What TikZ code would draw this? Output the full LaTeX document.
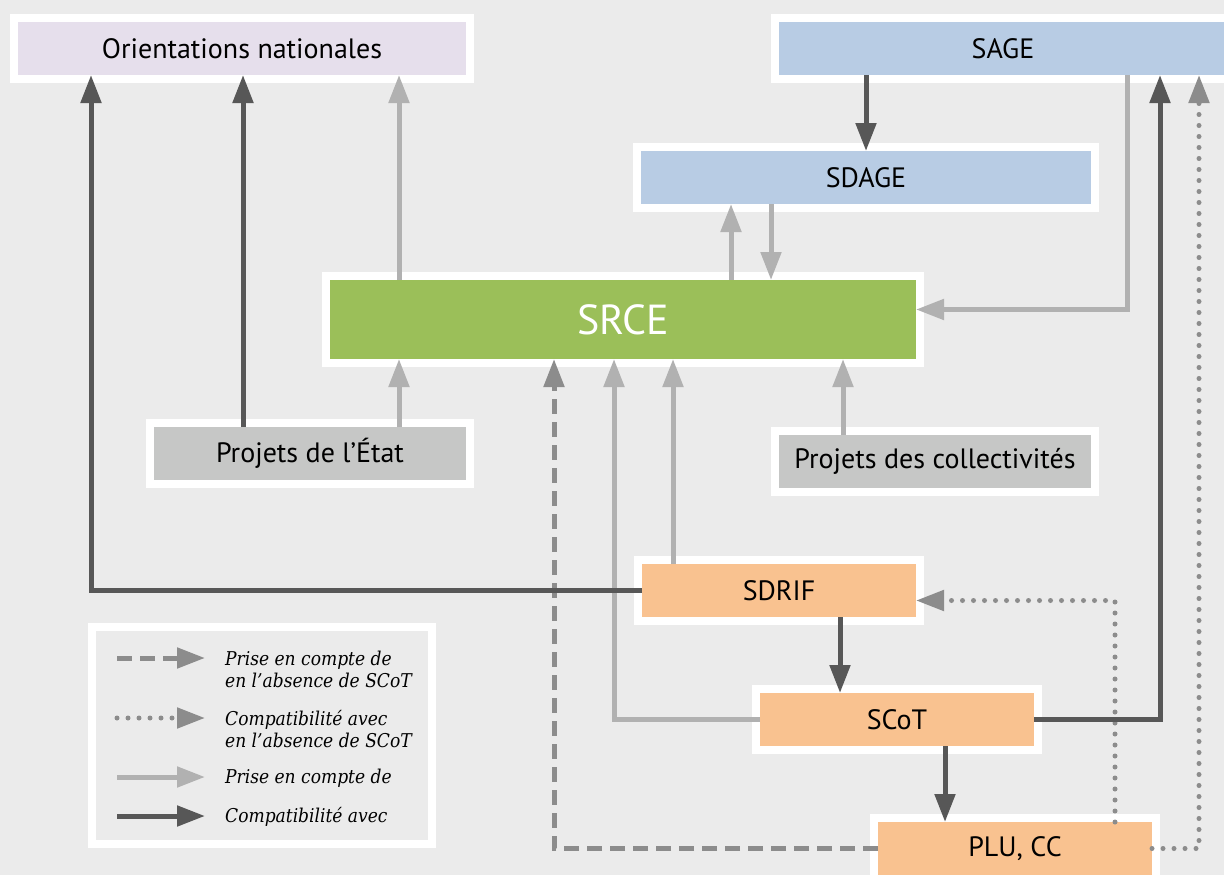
\documentclass[tikz,border=0pt]{standalone}
\usepackage{fontspec}
\setmainfont{PT Sans}
\newfontfamily\legfont{DejaVuSerifCondensed}[Extension=.ttf,ItalicFont=DejaVuSerifCondensed-Italic]
\usetikzlibrary{arrows.meta}
\definecolor{fond}{HTML}{EBEBEB}
\definecolor{fonce}{HTML}{575757}
\definecolor{clair}{HTML}{B1B1B1}
\definecolor{moyen}{HTML}{8C8C8C}
\definecolor{lavande}{HTML}{E6DFEC}
\definecolor{bleu}{HTML}{B8CCE4}
\definecolor{vert}{HTML}{9BBF59}
\definecolor{gris}{HTML}{C6C7C6}
\definecolor{saumon}{HTML}{F9C290}
\tikzset{
  boite/.style={draw=white,line width=8pt,inner sep=0pt,outer sep=-4pt,minimum height=61pt,
    font=\fontsize{28}{32}\selectfont},
  fleche/.style={line width=5pt,-{Triangle[length=28pt,width=20pt]}},
  compat/.style={fleche,draw=fonce},
  prise/.style={fleche,draw=clair},
  pointille/.style={fleche,draw=moyen,line cap=round,dash pattern=on 0pt off 11pt},
  tirete/.style={fleche,draw=moyen,dash pattern=on 15pt off 8pt},
  legende/.style={font=\legfont\itshape\fontsize{19}{22}\selectfont,align=left,inner sep=0pt,anchor=west}
}
\begin{document}
\begin{tikzpicture}[x=1pt,y=-1pt]
\fill[fond] (0,0) rectangle (1224,875);
\useasboundingbox (0,0) rectangle (1224,875);

\node[boite,fill=lavande,minimum width=456pt] (nat) at (242,48.5) {Orientations nationales};
\node[boite,fill=bleu,minimum width=456pt] (sage) at (1003,48.5) {SAGE};
\node[boite,fill=bleu,minimum width=458pt] (sdage) at (866,177.5) {SDAGE};
\node[boite,fill=vert,minimum width=594pt,minimum height=87pt,text=white,
  font=\fontsize{42}{46}\selectfont] (srce) at (623,319.5) {SRCE};
\node[boite,fill=gris,minimum width=320pt] (etat) at (310,453.5) {Projets de l’État};
\node[boite,fill=gris,minimum width=320pt] (coll) at (935,461.5) {Projets des collectivités};
\node[boite,fill=saumon,minimum width=282pt] (sdrif) at (779,590.5) {SDRIF};
\node[boite,fill=saumon,minimum width=282pt] (scot) at (897,719.5) {SCoT};
\node[boite,fill=saumon,minimum width=282pt] (plu) at (1015,848.5) {PLU, CC};

\draw[prise] ([xshift=89pt]etat.north) -- ([xshift=89pt]etat.north |- srce.south);
\draw[prise] ([xshift=89pt]etat.north |- srce.north) -- ([xshift=89pt]etat.north |- nat.south);
\draw[prise] ([xshift=-135pt]sdage.south |- srce.north) -- ([xshift=-135pt]sdage.south);
\draw[prise] ([xshift=-95pt]sdage.south) -- ([xshift=-95pt]sdage.south |- srce.north);
\draw[prise] ([xshift=124pt]sage.south) |- ([yshift=10pt]srce.east);
\draw[prise] ([xshift=-92pt]coll.north) -- ([xshift=-92pt]coll.north |- srce.south);
\draw[prise] (scot.west) -| ([xshift=-9pt]srce.south);
\draw[prise] ([xshift=-106pt]sdrif.north) -- ([xshift=-106pt]sdrif.north |- srce.south);

\draw[tirete] (plu.west) -| ([xshift=-69pt]srce.south);
\draw[pointille] ([xshift=100pt]plu.north) |- ([yshift=-10pt]sdrif.east);
\draw[pointille] (plu.east) -| ([xshift=196pt]sage.south);

\draw[compat] (sdrif.west) -| ([xshift=73pt]nat.south west);
\draw[compat] ([xshift=-67pt]etat.north) -- ([xshift=-67pt]etat.north |- nat.south);
\draw[compat] (sage.south -| sdage.north) -- (sdage.north);
\draw[compat] (scot.east) -| ([xshift=157pt]sage.south);
\draw[compat] ([xshift=61pt]sdrif.south) -- ([xshift=61pt]sdrif.south |- scot.north);
\draw[compat] ([xshift=48pt]scot.south) -- ([xshift=48pt]scot.south |- plu.north);

\node[draw=white,line width=8pt,minimum width=340pt,minimum height=217pt,inner sep=0pt] (leg) at (262,735.5) {};
\foreach \sty/\y in {tirete/658,pointille/718,prise/777,compat/816}
  \draw[\sty] (117,\y) -- (205,\y);
\node[legende] (l1) at (225,669) {Prise en compte de\\en l’absence de SCoT};
\node[legende] (l2) at (225,729) {Compatibilité avec\\en l’absence de SCoT};
\node[legende] (l3) at (225,778) {Prise en compte de};
\node[legende] (l4) at (225,817) {Compatibilité avec};
\end{tikzpicture}
\end{document}
